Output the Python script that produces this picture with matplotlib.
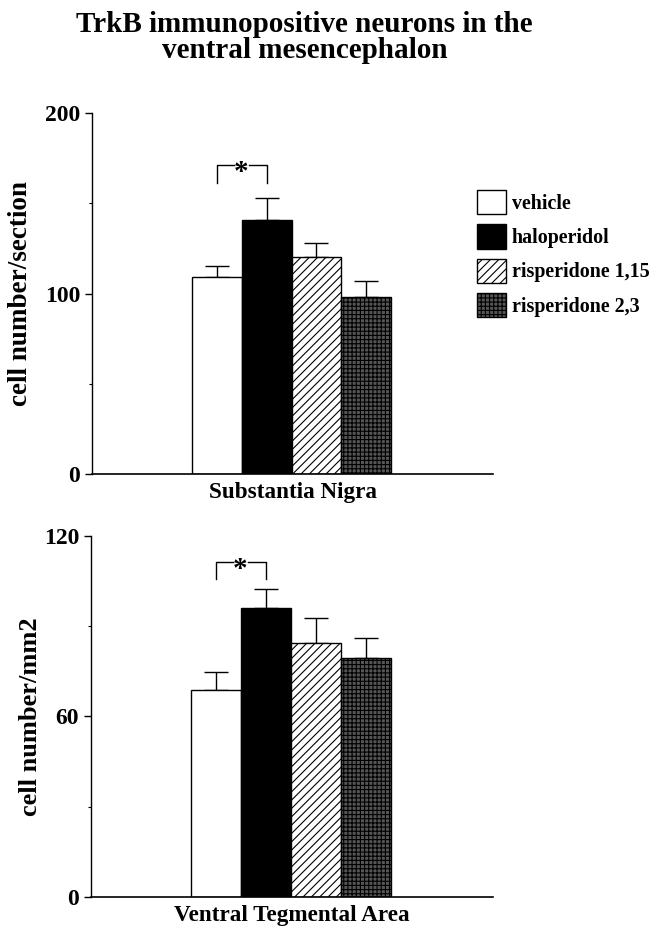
import numpy as np
import matplotlib.pyplot as plt
from matplotlib.patches import Patch

plt.rcParams['font.family'] = ['Liberation Serif', 'DejaVu Serif']
plt.rcParams['font.weight'] = 'bold'
plt.rcParams['hatch.linewidth'] = 0.8

groups = ['vehicle', 'haloperidol', 'risperidone 1,15', 'risperidone 2,3']
sn_mean = [109, 140.5, 120, 98]
sn_err = [6.5, 12.5, 8, 9]
vta_mean = [68.8, 96, 84.4, 79.4]
vta_err = [6, 6.3, 8.3, 6.6]

faces = ['white', 'black', 'white', '#555555']
hatches = [None, None, '////', '++++']

fig = plt.figure(figsize=(6.54, 9.32), dpi=100)
fig.text(0.466, 0.988, 'TrkB immunopositive neurons in the\nventral mesencephalon',
         ha='center', va='top', fontsize=21, fontweight='bold', linespacing=0.95)

ax1 = fig.add_axes([0.1407, 0.4914, 0.6131, 0.3873])
ax2 = fig.add_axes([0.1391, 0.0376, 0.6147, 0.3873])

x = np.arange(len(groups))


def panel(ax, mean, err, ymax, ticks, ylabel, xlabel, sig_y, sig_h, lab_x, lab_fs):
    bars = ax.bar(x, mean, width=1.0, color=faces, edgecolor='black',
                  linewidth=1.0, zorder=2)
    for b, h in zip(bars, hatches):
        if h:
            b.set_hatch(h)
    ax.errorbar(x, mean, yerr=[np.zeros(len(err)), err], fmt='none',
                ecolor='black', elinewidth=1.0, capsize=8.5, capthick=1.0,
                zorder=1)
    # significance bracket
    ax.plot([0, 0, 0.34], [sig_y - sig_h, sig_y, sig_y], color='black', lw=1)
    ax.plot([0.64, 1, 1], [sig_y, sig_y, sig_y - sig_h], color='black', lw=1)
    ax.annotate('*', (0.49, sig_y), xytext=(0, -5), textcoords='offset points',
                ha='center', va='center', fontsize=21, fontweight='bold')
    ax.set_xlim(-2.49, 5.53)
    ax.set_ylim(0, ymax)
    ax.set_yticks(ticks)
    ax.set_yticks([ticks[1] / 2, ticks[1] * 1.5], minor=True)
    ax.tick_params(axis='y', which='major', labelsize=17, length=5, width=1)
    ax.tick_params(axis='y', which='minor', length=2, width=0.8)
    ax.set_xticks([])
    for s in ['top', 'right']:
        ax.spines[s].set_visible(False)
    ax.spines['left'].set_linewidth(1)
    ax.spines['bottom'].set_linewidth(1.2)
    ax.set_ylabel(ylabel, fontsize=lab_fs, fontweight='bold')
    ax.yaxis.set_label_coords(lab_x, 0.5)
    ax.set_xlabel(xlabel, fontsize=16.7, fontweight='bold', labelpad=6)
    return bars


panel(ax1, sn_mean, sn_err, 200, [0, 100, 200], 'cell number/section',
      'Substantia Nigra', 171, 10, -0.147, 19.5)
panel(ax2, vta_mean, vta_err, 120, [0, 60, 120], 'cell number/mm2',
      'Ventral Tegmental Area', 111.3, 5.7, -0.122, 19)

handles = [Patch(facecolor=f, edgecolor='black', hatch=h, linewidth=1)
           for f, h in zip(faces, hatches)]
fig.legend(handles, groups, loc='upper left', bbox_to_anchor=(0.717, 0.805),
           frameon=False, fontsize=14.4, handlelength=1.45, handleheight=1.5,
           handletextpad=0.3, labelspacing=0.5, borderaxespad=0)

plt.savefig('out.png', dpi=100)
